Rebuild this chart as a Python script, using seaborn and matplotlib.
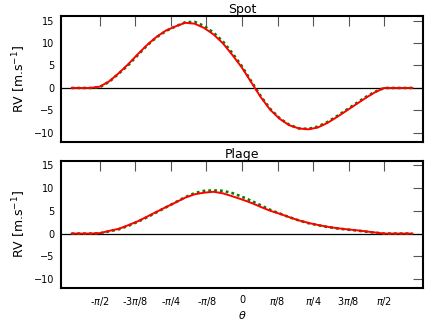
import numpy as np
import pandas as pd
import seaborn as sns
import matplotlib.pyplot as plt

# theta grid: -0.6*pi .. 0.6*pi in steps of pi/30
theta = np.linspace(-0.6 * np.pi, 0.6 * np.pi, 37)

spot_model = [0, 0, 0, 0.3, 1.5, 3.3, 5.3, 7.5, 9.6, 11.4, 12.8, 13.7, 14.5, 14.3,
              13.35, 11.9, 9.9, 7.3, 4.5, 1.2, -2.1, -4.9, -6.9, -8.3, -9.0, -9.2,
              -8.8, -7.8, -6.5, -5.1, -3.7, -2.3, -1.0, 0, 0, 0, 0]
spot_data = [0, 0, 0, 0.2, 1.4, 3.2, 5.1, 7.3, 9.5, 11.3, 12.7, 13.7, 14.6, 14.7,
             13.8, 12.3, 10.3, 7.7, 4.8, 1.4, -1.9, -4.7, -6.8, -8.2, -9.0, -9.1,
             -8.6, -7.6, -6.3, -4.9, -3.5, -2.1, -0.9, 0, 0, 0, 0]
plage_model = [0, 0, 0, 0.1, 0.6, 1.05, 1.85, 2.7, 3.75, 4.8, 5.85, 6.85, 7.9, 8.65,
               9.0, 9.2, 8.85, 8.2, 7.5, 6.75, 5.85, 5.0, 4.35, 3.6, 2.9, 2.35,
               1.9, 1.5, 1.2, 0.95, 0.75, 0.5, 0.25, 0, 0, 0, 0]
plage_data = [0, 0, 0, 0.05, 0.5, 0.95, 1.7, 2.6, 3.6, 4.7, 5.8, 6.9, 8.0, 8.9,
              9.4, 9.5, 9.4, 8.9, 8.1, 7.2, 6.2, 5.2, 4.4, 3.6, 2.9, 2.3,
              1.85, 1.45, 1.15, 0.9, 0.7, 0.45, 0.2, 0, 0, 0, 0]

tick_pos = [-np.pi / 2, -3 * np.pi / 8, -np.pi / 4, -np.pi / 8, 0,
            np.pi / 8, np.pi / 4, 3 * np.pi / 8, np.pi / 2]
tick_labels = [r'-$\pi$/2', r'-3$\pi$/8', r'-$\pi$/4', r'-$\pi$/8', '0',
               r'$\pi$/8', r'$\pi$/4', r'3$\pi$/8', r'$\pi$/2']

sns.set_style("white")
plt.rcParams['font.family'] = ['DejaVu Sans']
plt.rcParams['lines.scale_dashes'] = False
plt.rcParams['text.color'] = 'black'
plt.rcParams['axes.labelcolor'] = 'black'
plt.rcParams['xtick.labelcolor'] = 'black'
plt.rcParams['ytick.labelcolor'] = 'black'

fig = plt.figure(figsize=(4.36, 3.27), dpi=100)
ax1 = fig.add_axes([0.14, 0.566, 0.83, 0.385])
ax2 = fig.add_axes([0.14, 0.119, 0.83, 0.389])

panels = [(ax1, "Spot", spot_data, spot_model), (ax2, "Plage", plage_data, plage_model)]
for ax, title, data, model in panels:
    df = pd.DataFrame({"theta": theta, "data": data, "model": model})
    ax.axhline(0, color="black", lw=0.9, zorder=1)
    sns.lineplot(data=df, x="theta", y="data", ax=ax, color="green",
                 lw=1.9, linestyle=(0, (2, 2.2)), zorder=2)
    sns.lineplot(data=df, x="theta", y="model", ax=ax, color="red", lw=1.4, zorder=3)
    ax.set_xlim(-2.0, 2.0)
    ax.set_ylim(-12, 16)
    ax.set_yticks([-10, -5, 0, 5, 10, 15])
    ax.set_yticklabels(['\u221210', '\u22125', '0', '5', '10', '15'])
    ax.set_xticks(tick_pos)
    ax.set_title(title, fontsize=9, pad=2)
    ax.set_ylabel(r'RV [m.s$^{-1}$]', fontsize=9, labelpad=4)
    ax.tick_params(direction="in", length=7, width=0.8, color="#555555",
                   top=True, right=True, labelsize=7, pad=5)
    for s in ax.spines.values():
        s.set_linewidth(1.5)
        s.set_color("black")

ax1.set_xticklabels([])
ax1.set_xlabel("")
ax2.set_xticklabels(tick_labels)
ax2.set_xlabel(r'$\theta$', fontsize=8, labelpad=1)

fig.savefig("out.png", dpi=100)
